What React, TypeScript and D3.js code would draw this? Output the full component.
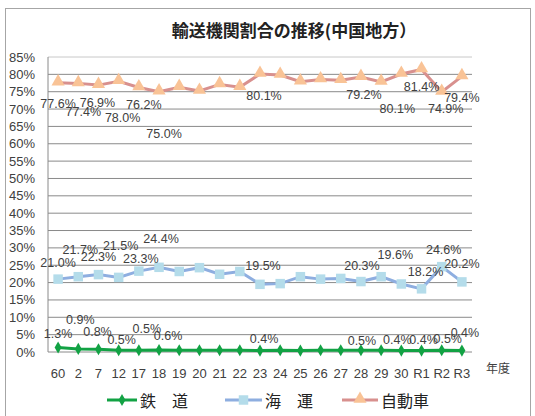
import * as d3 from 'd3'

const categories = ['60', '2', '7', '12', '17', '18', '19', '20', '21', '22', '23', '24', '25', '26', '27', '28', '29', '30', 'R1', 'R2', 'R3']
const railValues = [1.3, 0.9, 0.8, 0.5, 0.5, 0.6, 0.5, 0.5, 0.5, 0.5, 0.4, 0.5, 0.4, 0.5, 0.5, 0.5, 0.5, 0.4, 0.4, 0.5, 0.4]
const seaValues = [21.0, 21.7, 22.3, 21.5, 23.3, 24.4, 23.2, 24.3, 22.4, 23.2, 19.5, 19.7, 21.7, 21.0, 21.2, 20.3, 21.7, 19.6, 18.2, 24.6, 20.2]
const autoValues = [77.6, 77.4, 76.9, 78.0, 76.2, 75.0, 76.3, 75.2, 77.1, 76.3, 80.1, 79.8, 77.9, 78.5, 78.3, 79.2, 77.8, 80.1, 81.4, 74.9, 79.4]
const yTicks = [0, 5, 10, 15, 20, 25, 30, 35, 40, 45, 50, 55, 60, 65, 70, 75, 80, 85]
const labeledIdx = [0, 1, 2, 3, 4, 5, 10, 15, 17, 18, 19, 20]

// label nudges (dx, dy from the point) — the labels were dragged around in the original
const railLabelPos = [[0, -13], [2, -29], [-1, -17], [3, -10], [8, -21], [9, -14], [4, -12], [1, -9], [-4, -11], [2, -11], [6, -11], [3, -18]]
const seaLabelPos = [[0, -16], [2, -27], [0, -18], [2, -31], [2, -12], [2, -28], [3, -18], [1, -16], [-6, -29], [4, -17], [2, -17], [0, -18]]
const autoLabelPos = [[0, 21], [5, 29], [-1, 18], [4, 37], [5, 17], [5, 42], [4, 22], [3, 18], [-4, 35], [0, 18], [4, 17], [0, 22]]

const numFont = "'Liberation Sans', 'Noto Sans CJK JP', sans-serif"
const cjkFont = "'Noto Sans CJK JP', sans-serif"

const railColor = '#12a244'
const seaLine = '#8eaee0'
const seaMarker = '#b4dcea'
const autoLine = '#d8908e'
const autoMarker = '#f9c396'

const diamond = d3.symbol(d3.symbolDiamond, 42)()
const square = d3.symbol(d3.symbolSquare, 90)()
const triangle = d3.symbol(d3.symbolTriangle, 75)()

export default function App() {
	const x = d3.scaleBand().domain(categories).range([48, 472]).padding(0)
	const y = d3.scaleLinear().domain([0, 85]).range([352, 57])
	const cx = (i: number) => x(categories[i])! + x.bandwidth() / 2

	const line = d3
		.line<number>()
		.x((_, i) => cx(i))
		.y((d) => y(d))

	const labels = (vals: number[], pos: number[][], key: string) =>
		labeledIdx.map((idx, k) => (
			<text
				key={key + idx}
				x={cx(idx) + pos[k][0]}
				y={y(vals[idx]) + pos[k][1]}
				textAnchor='middle'
				dominantBaseline='central'
				fontSize={12.5}
				fill='#404040'
				fontFamily={numFont}
			>
				{vals[idx].toFixed(1)}%
			</text>
		))

	return (
		<svg width={535} height={416} style={{ position: 'absolute', left: 0, top: 0, background: '#fff' }}>
			<rect x={5.5} y={8.5} width={525} height={412} fill='#fff' stroke='#a6a6a6' />
			<text x={294} y={37} textAnchor='middle' fontSize={17} fontWeight='bold' fontFamily={cjkFont} fill='#222'>
				輸送機関割合の推移(中国地方）
			</text>

			{/* grid */}
			{yTicks.map((t) => (
				<g key={t}>
					<line x1={48} x2={472} y1={y(t)} y2={y(t)} stroke={t === 85 ? '#c8c8c8' : '#8a8a8a'} strokeWidth={1} />
					<text x={35} y={y(t)} textAnchor='end' dominantBaseline='central' fontSize={13} fill='#404040' fontFamily={numFont}>
						{t}%
					</text>
				</g>
			))}
			<line x1={48} x2={48} y1={y(85)} y2={y(0)} stroke='#8a8a8a' />
			{categories.map((c, i) => (
				<text key={c} x={cx(i)} y={373} textAnchor='middle' dominantBaseline='central' fontSize={13} fill='#404040' fontFamily={numFont}>
					{c}
				</text>
			))}
			<text x={486} y={367} dominantBaseline='central' fontSize={12} fill='#404040' fontFamily={cjkFont}>
				年度
			</text>

			{/* rail */}
			<path d={line(railValues)!} fill='none' stroke={railColor} strokeWidth={3} />
			{railValues.map((v, i) => (
				<path key={'r' + i} d={diamond!} transform={`translate(${cx(i)},${y(v)})`} fill={railColor} />
			))}
			{/* sea */}
			<path d={line(seaValues)!} fill='none' stroke={seaLine} strokeWidth={3} />
			{seaValues.map((v, i) => (
				<path key={'s' + i} d={square!} transform={`translate(${cx(i)},${y(v)})`} fill={seaMarker} />
			))}
			{/* auto */}
			<path d={line(autoValues)!} fill='none' stroke={autoLine} strokeWidth={3} />
			{autoValues.map((v, i) => (
				<path key={'a' + i} d={triangle!} transform={`translate(${cx(i)},${y(v) - 1})`} fill={autoMarker} />
			))}

			{labels(railValues, railLabelPos, 'rl')}
			{labels(seaValues, seaLabelPos, 'sl')}
			{labels(autoValues, autoLabelPos, 'al')}

			{/* legend */}
			<line x1={107} x2={137} y1={400} y2={400} stroke={railColor} strokeWidth={3} />
			<path d={diamond!} transform='translate(122,400)' fill={railColor} />
			<text x={140} y={400} dominantBaseline='central' fontSize={16} fill='#222' fontFamily={cjkFont}>
				鉄　道
			</text>
			<line x1={225} x2={262} y1={400} y2={400} stroke={seaLine} strokeWidth={3} />
			<path d={square!} transform='translate(243.5,400)' fill={seaMarker} />
			<text x={265} y={400} dominantBaseline='central' fontSize={16} fill='#222' fontFamily={cjkFont}>
				海　運
			</text>
			<line x1={342} x2={378} y1={400} y2={400} stroke={autoLine} strokeWidth={3} />
			<path d={triangle!} transform='translate(360,399)' fill={autoMarker} />
			<text x={381} y={400} dominantBaseline='central' fontSize={16} fill='#222' fontFamily={cjkFont}>
				自動車
			</text>
		</svg>
	)
}
